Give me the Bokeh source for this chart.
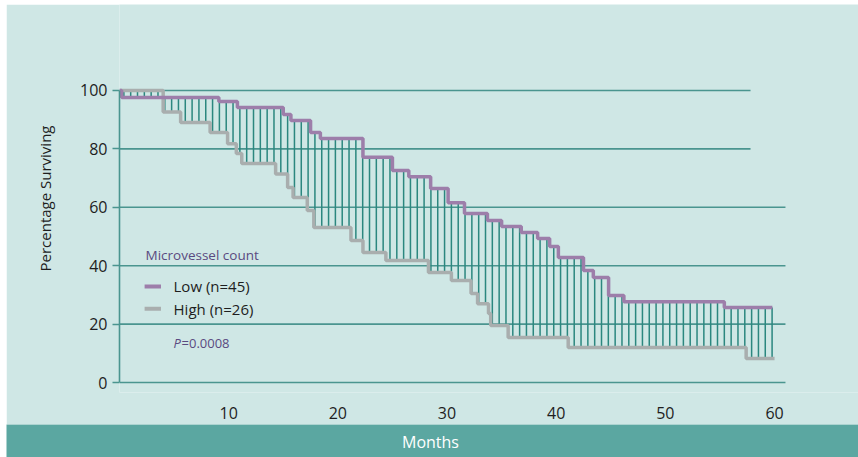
import numpy as np
from bokeh.plotting import figure
from bokeh.models import Range1d, FixedTicker, Spacer
from bokeh.layouts import column, row
from bokeh.core.properties import value
from bokeh.embed import file_html
from bokeh.resources import INLINE

# ---- data ----
low_t = [0, 0.2, 9.1, 10.8, 15.0, 15.7, 17.5, 18.4, 22.3, 25.0, 26.5, 28.5, 30.1, 31.6,
         33.7, 35.0, 36.8, 38.3, 39.4, 40.2, 42.5, 43.4, 44.8, 46.2, 55.4, 59.8]
low_s = [100, 97.6, 96.2, 94.2, 91.8, 89.7, 85.6, 83.6, 77.1, 72.6, 70.5, 66.4, 61.6, 57.9,
         55.5, 53.4, 51.4, 49.3, 46.6, 42.8, 38.4, 36.0, 29.8, 27.7, 25.7, 25.7]
high_t = [0, 4.0, 5.6, 8.3, 9.9, 10.7, 11.2, 14.3, 15.4, 15.9, 17.2, 17.8, 21.2, 22.3,
          24.4, 28.3, 30.4, 32.2, 32.8, 33.8, 34.0, 35.6, 41.1, 57.4, 60.0]
high_s = [100, 92.6, 89.0, 85.6, 81.8, 78.4, 75.0, 71.4, 66.8, 63.4, 58.9, 53.1, 48.6, 44.5,
          41.8, 37.7, 34.9, 30.5, 27.0, 23.6, 19.5, 15.4, 12.0, 8.2, 8.2]
x_ticks = [10, 20, 30, 40, 50, 60]
y_ticks = [0, 20, 40, 60, 80, 100]
legend_labels = ["Low (n=45)", "High (n=26)"]
legend_title = "Microvessel count"
p_label = "0.0008"

# ---- styles ----
BG = "#cfe7e5"
BAND = "#5ba7a1"
GRID = "#4a958f"
HATCH = "#2b877f"
PURPLE = "#9d7eaa"
GRAY = "#a9aeae"
TXT = "#1e1e1e"
LEG = "#5a4a80"
FONT = value("Open Sans")

p = figure(width=852, height=420, output_backend="svg", toolbar_location=None,
           x_range=Range1d(0, 67.69), y_range=Range1d(-3.42, 129.45),
           min_border_left=113, min_border_right=0, min_border_top=0, min_border_bottom=32,
           background_fill_color=BG, border_fill_color=BG, outline_line_color=None)
p.xgrid.visible = False
p.ygrid.visible = False

# gridlines
upper = [v for v in y_ticks if v >= 80]
lower = [v for v in y_ticks if v < 80]
p.segment(x0=[0] * len(upper), x1=[57.8] * len(upper), y0=upper, y1=upper,
          line_color=GRID, line_width=1.6)
p.segment(x0=[0] * len(lower), x1=[61.0] * len(lower), y0=lower, y1=lower,
          line_color=GRID, line_width=1.6)

# hatching between curves
lt = np.array(low_t); ls = np.array(low_s)
ht = np.array(high_t); hs = np.array(high_s)
hx = np.arange(0.4, 60.01, 0.625)
lv = ls[np.searchsorted(lt, hx, side="right") - 1]
hv = hs[np.searchsorted(ht, hx, side="right") - 1]
p.segment(x0=hx, x1=hx, y0=hv, y1=lv, line_color=HATCH, line_width=1.5)

# survival curves
p.step(high_t, high_s, mode="after", line_color=GRAY, line_width=3.5)
p.step(low_t, low_s, mode="after", line_color=PURPLE, line_width=3.5)

# legend (drawn as glyphs)
p.text(x=[2.38], y=[43.8], text=[legend_title], text_font=FONT, text_font_size="13.5px",
       text_color=LEG, text_baseline="middle", text_align="left")
p.segment(x0=[2.3, 2.3], x1=[3.8, 3.8], y0=[32.9, 25.3], y1=[32.9, 25.3],
          line_color=[PURPLE, GRAY], line_width=4)
p.text(x=[4.95, 4.95], y=[32.9, 25.3], text=legend_labels, text_font=FONT,
       text_font_size="15px", text_color=TXT, text_baseline="middle", text_align="left")
p.text(x=[4.95], y=[13.4], text=["P"], text_font=FONT, text_font_size="13px",
       text_font_style="italic", text_color=LEG, text_baseline="middle", text_align="left")
p.text(x=[4.95], y=[13.4], text=["=" + p_label], x_offset=8, text_font=FONT,
       text_font_size="13px", text_color=LEG, text_baseline="middle", text_align="left")

# y axis
p.yaxis.ticker = FixedTicker(ticks=y_ticks)
p.yaxis.bounds = (0, 100)
p.yaxis.axis_line_color = GRID
p.yaxis.axis_line_width = 1.6
p.yaxis.major_tick_line_color = GRID
p.yaxis.major_tick_line_width = 1.6
p.yaxis.major_tick_in = 0
p.yaxis.major_tick_out = 7
p.yaxis.minor_tick_line_color = None
p.yaxis.major_label_standoff = 5
p.yaxis.major_label_text_font = "Open Sans"
p.yaxis.major_label_text_font_size = "16px"
p.yaxis.major_label_text_color = TXT
p.yaxis.axis_label = "Percentage Surviving"
p.yaxis.axis_label_text_font = "Open Sans"
p.yaxis.axis_label_text_font_size = "15px"
p.yaxis.axis_label_text_font_style = "normal"
p.yaxis.axis_label_text_color = TXT
p.yaxis.axis_label_standoff = 22

# x axis
p.xaxis.ticker = FixedTicker(ticks=x_ticks)
p.xaxis.axis_line_color = None
p.xaxis.major_tick_line_color = None
p.xaxis.minor_tick_line_color = None
p.xaxis.major_label_standoff = 8
p.xaxis.major_label_text_font = "Open Sans"
p.xaxis.major_label_text_font_size = "16px"
p.xaxis.major_label_text_color = TXT

# bottom band with axis title
p2 = figure(width=852, height=33, output_backend="svg", toolbar_location=None,
            x_range=Range1d(0, 852), y_range=Range1d(0, 33), min_border=0,
            background_fill_color=BAND, border_fill_color=BAND, outline_line_color=None)
p2.axis.visible = False
p2.grid.visible = False
p2.text(x=[424], y=[16], text=["Months"], text_font=FONT, text_font_size="16px",
        text_color="white", text_align="center", text_baseline="middle")

layout = column(Spacer(width=858, height=4),
                row(Spacer(width=6, height=420), p),
                row(Spacer(width=6, height=33), p2))

open("out.html", "w").write(file_html(layout, INLINE))
